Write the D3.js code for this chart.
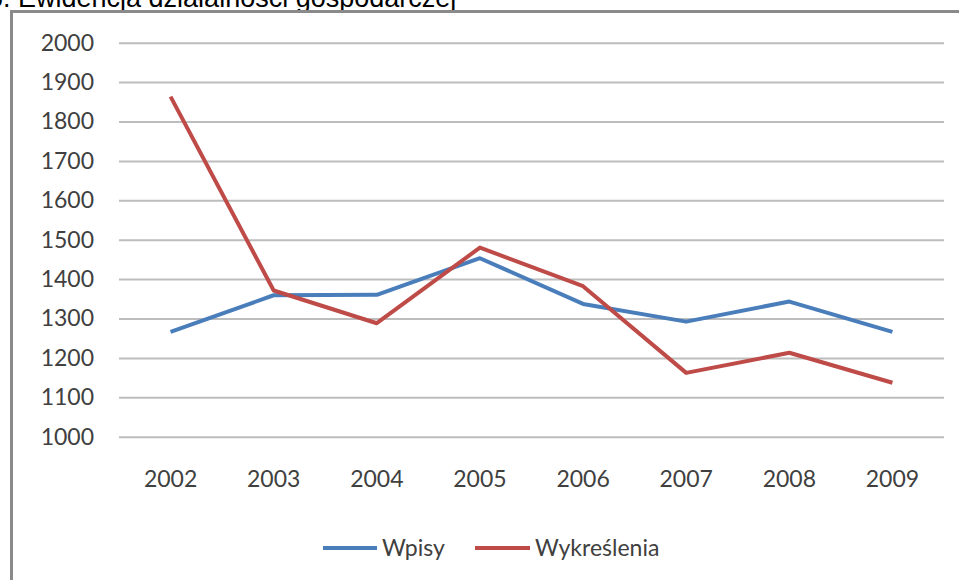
<!DOCTYPE html>
<html>
<head>
<meta charset="utf-8">
<script src="https://cdn.jsdelivr.net/npm/d3@7"></script>
<style>
  html, body { margin: 0; padding: 0; background: #fff; overflow: hidden; }
  svg { display: block; }
</style>
</head>
<body>
<script>
const years = ["2002", "2003", "2004", "2005", "2006", "2007", "2008", "2009"];
const wpisy = [1266, 1359, 1360, 1453, 1337, 1292, 1343, 1266];
const wykreslenia = [1863, 1371, 1288, 1480, 1382, 1162, 1213, 1137];
const yTicks = [1000, 1100, 1200, 1300, 1400, 1500, 1600, 1700, 1800, 1900, 2000];
const seriesNames = ["Wpisy", "Wykreślenia"];
const seriesColors = ["#4a7ebb", "#be4b48"];
const title = "6. Ewidencja działalności gospodarczej";

const W = 959, H = 580;
const svg = d3.select("body").append("svg").attr("width", W).attr("height", H);

// title (partially cut off at top, as in the reference)
svg.append("text")
  .attr("x", -12).attr("y", 7)
  .attr("font-family", "Liberation Sans, Arial, sans-serif")
  .attr("font-size", 27)
  .attr("fill", "#000")
  .text(title);

// frame
svg.append("path")
  .attr("d", `M11.5,${H} L11.5,11.5 L${W},11.5`)
  .attr("fill", "none")
  .attr("stroke", "#8a8a8a")
  .attr("stroke-width", 3);

const pLeft = 119, pRight = 944, pTop = 42.7, pBottom = 436.7;
const x = d3.scaleBand().domain(years).range([pLeft, pRight]).padding(0);
const y = d3.scaleLinear().domain([1000, 2000]).range([pBottom, pTop]);

const font = "Lato, Calibri, 'Open Sans', sans-serif";
const textColor = "#404040";

// y axis with gridlines
const yAxis = svg.append("g")
  .attr("transform", `translate(${pLeft},0)`)
  .call(d3.axisLeft(y).tickValues(yTicks).tickFormat(d3.format("d"))
    .tickSizeInner(-(pRight - pLeft)).tickSizeOuter(0).tickPadding(25));
yAxis.select(".domain").remove();
yAxis.selectAll(".tick line").attr("stroke", "#bdbdbd").attr("stroke-width", 2);
yAxis.selectAll(".tick text")
  .attr("font-family", font).attr("font-size", 23).attr("fill", textColor);

// x axis
const xAxis = svg.append("g")
  .attr("transform", `translate(0,${pBottom})`)
  .call(d3.axisBottom(x).tickSize(0).tickPadding(34));
xAxis.select(".domain").remove();
xAxis.selectAll(".tick text")
  .attr("font-family", font).attr("font-size", 23).attr("fill", textColor);

// lines
const line = d3.line()
  .x((d, i) => x(years[i]) + x.bandwidth() / 2)
  .y(d => y(d));

[wpisy, wykreslenia].forEach((s, k) => {
  svg.append("path")
    .datum(s)
    .attr("d", line)
    .attr("fill", "none")
    .attr("stroke", seriesColors[k])
    .attr("stroke-width", 4)
    .attr("stroke-linejoin", "round");
});

// legend
const legendItems = [
  { x1: 323, x2: 377, tx: 382 },
  { x1: 475, x2: 530, tx: 535 }
];
const ly = 548;
legendItems.forEach((it, k) => {
  svg.append("line")
    .attr("x1", it.x1).attr("x2", it.x2)
    .attr("y1", ly).attr("y2", ly)
    .attr("stroke", seriesColors[k]).attr("stroke-width", 4);
  svg.append("text")
    .attr("x", it.tx).attr("y", ly).attr("dy", "0.35em")
    .attr("font-family", font).attr("font-size", 23).attr("fill", textColor)
    .text(seriesNames[k]);
});
</script>
</body>
</html>
